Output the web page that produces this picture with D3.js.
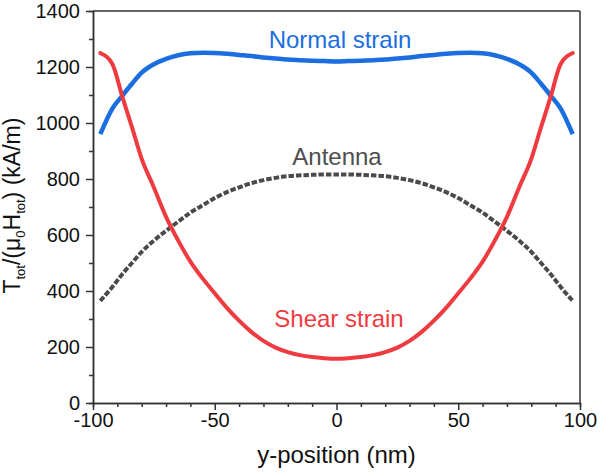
<!DOCTYPE html>
<html>
  <head>
    <script src="https://d3js.org/d3.v7.min.js"></script>
    <style>
      body { margin: 0; background: #fff; }
      svg { font-family: "Liberation Sans", Arial, sans-serif; }
      .axis path, .axis line { stroke: #333; stroke-width: 1.5; }
      .axis text { font-size: 20px; fill: #111; }
    </style>
  </head>
  <body>
    <svg id="chart" width="600" height="473"></svg>
    <script>
      // values
      const xPos = [-97, -92, -88, -84, -80, -75, -70, -65, -60, -55, -50, -45, -40, -35, -30, -25, -20, -15, -10, -5, 0,
                    5, 10, 15, 20, 25, 30, 35, 40, 45, 50, 55, 60, 65, 70, 75, 80, 84, 88, 92, 97];
      const shear = [1250, 1210, 1095, 985, 872, 770, 665, 580, 505, 445, 392, 340, 294, 254, 222, 198, 182, 171, 164, 160, 158,
                     160, 164, 171, 182, 198, 222, 254, 294, 340, 392, 445, 505, 580, 665, 770, 872, 985, 1095, 1210, 1250];
      const normal = [960, 1052, 1097, 1140, 1180, 1210, 1229, 1242, 1249, 1251, 1250, 1247, 1243, 1239, 1234, 1230, 1227, 1224, 1222, 1221, 1220,
                      1221, 1222, 1224, 1227, 1230, 1234, 1239, 1243, 1247, 1250, 1251, 1249, 1242, 1229, 1210, 1180, 1140, 1097, 1052, 960];
      const antenna = [365, 415, 460, 500, 540, 580, 615, 648, 680, 706, 732, 753, 770, 785, 796, 804, 810, 813, 815, 816, 816,
                       816, 815, 813, 810, 804, 796, 785, 770, 753, 732, 706, 680, 648, 615, 580, 540, 500, 460, 415, 365];
      const xTicks = [-100, -50, 0, 50, 100];
      const xMinor = [-90, -80, -70, -60, -40, -30, -20, -10, 10, 20, 30, 40, 60, 70, 80, 90];
      const yTicks = [0, 200, 400, 600, 800, 1000, 1200, 1400];
      const yMinor = [100, 300, 500, 700, 900, 1100, 1300];

      const svg = d3.select("#chart");
      const margins = {top: 11, right: 20, bottom: 70, left: 93};
      const width = 600, height = 473;

      const x = d3.scaleLinear().domain([-100, 100]).range([margins.left, width - margins.right]);
      const y = d3.scaleLinear().domain([0, 1400]).range([height - margins.bottom, margins.top]);

      // frame top + right
      svg.append("line")
        .attr("x1", x(-100)).attr("x2", x(100))
        .attr("y1", y(1400)).attr("y2", y(1400))
        .attr("stroke", "#333").attr("stroke-width", 1.5);
      svg.append("line")
        .attr("x1", x(100)).attr("x2", x(100))
        .attr("y1", y(1400)).attr("y2", y(0))
        .attr("stroke", "#333").attr("stroke-width", 1.5);

      // minor ticks
      svg.append("g").attr("class", "axis")
        .attr("transform", `translate(${margins.left},0)`)
        .call(d3.axisLeft(y).tickValues(yMinor).tickSize(4).tickFormat(""));
      svg.append("g").attr("class", "axis")
        .attr("transform", `translate(0,${y(0)})`)
        .call(d3.axisBottom(x).tickValues(xMinor).tickSize(4).tickFormat(""));

      // main axes
      svg.append("g").attr("class", "axis")
        .attr("transform", `translate(${margins.left},0)`)
        .call(d3.axisLeft(y).tickValues(yTicks).tickSize(7).tickSizeOuter(0).tickPadding(6)
          .tickFormat(d => String(d)));
      svg.append("g").attr("class", "axis")
        .attr("transform", `translate(0,${y(0)})`)
        .call(d3.axisBottom(x).tickValues(xTicks).tickSize(7).tickSizeOuter(0).tickPadding(3)
          .tickFormat(d => String(d)));

      const line = d3.line()
        .x((d, i) => x(xPos[i]))
        .y(d => y(d))
        .curve(d3.curveMonotoneX);

      svg.append("path").datum(antenna)
        .attr("d", line)
        .attr("fill", "none")
        .attr("stroke", "#4a4a4a")
        .attr("stroke-width", 4)
        .attr("stroke-dasharray", "5.5,2");

      svg.append("path").datum(normal)
        .attr("d", line)
        .attr("fill", "none")
        .attr("stroke", "#1a6ee0")
        .attr("stroke-width", 4.5)
        .attr("stroke-linejoin", "round");

      svg.append("path").datum(shear)
        .attr("d", line)
        .attr("fill", "none")
        .attr("stroke", "#ef3b3f")
        .attr("stroke-width", 4)
        .attr("stroke-linejoin", "round")
        .attr("stroke-linecap", "round");

      // curve labels
      svg.append("text")
        .attr("x", 340).attr("y", 48)
        .attr("text-anchor", "middle")
        .style("font-size", "24px")
        .style("fill", "#1a6ee0")
        .text("Normal strain");
      svg.append("text")
        .attr("x", 337).attr("y", 165)
        .attr("text-anchor", "middle")
        .style("font-size", "24px")
        .style("fill", "#4d4d4d")
        .text("Antenna");
      svg.append("text")
        .attr("x", 339).attr("y", 327)
        .attr("text-anchor", "middle")
        .style("font-size", "24px")
        .style("fill", "#ef3b3f")
        .text("Shear strain");

      // x title
      svg.append("text")
        .attr("x", x(0)).attr("y", 463)
        .attr("text-anchor", "middle")
        .style("font-size", "24px")
        .style("fill", "#111")
        .text("y-position (nm)");

      // y title with subscripts
      const yTitle = svg.append("text")
        .attr("transform", `translate(20,${y(705)}) rotate(-90)`)
        .attr("text-anchor", "middle")
        .style("font-size", "23px")
        .style("fill", "#111");
      yTitle.append("tspan").text("T");
      yTitle.append("tspan").attr("dy", 5).style("font-size", "13px").text("tot");
      yTitle.append("tspan").attr("dy", -5).text("/(μ");
      yTitle.append("tspan").attr("dy", 5).style("font-size", "13px").text("0");
      yTitle.append("tspan").attr("dy", -5).text("H");
      yTitle.append("tspan").attr("dy", 5).style("font-size", "13px").text("tot");
      yTitle.append("tspan").attr("dy", -5).text(") (kA/m)");
    </script>
  </body>
</html>
